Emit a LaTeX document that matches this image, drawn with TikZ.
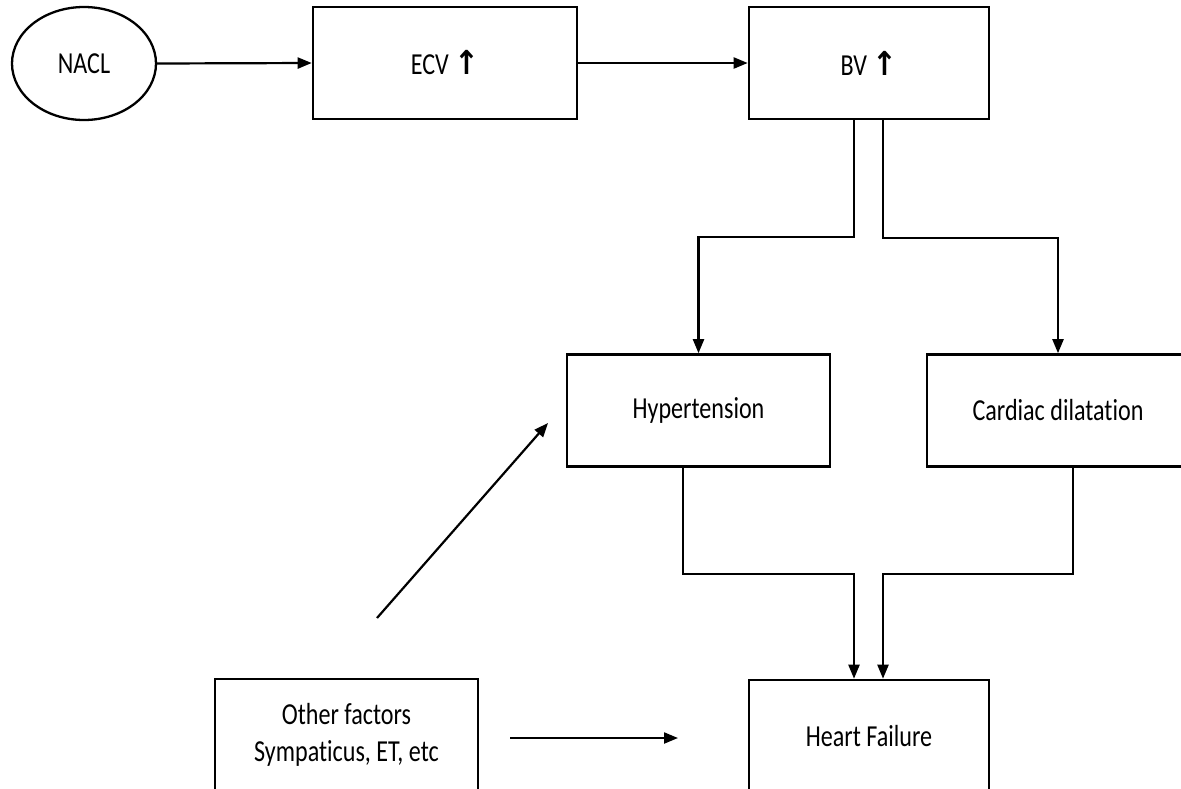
\documentclass[tikz,border=0pt]{standalone}
\usepackage{fontspec}
\setmainfont{Carlito}[FakeStretch=0.79,Ligatures={NoCommon}]
\newfontfamily\arrowfont{DejaVu Sans Bold}[FakeStretch=0.9]
\usetikzlibrary{arrows.meta,shapes.geometric}
\begin{document}
\begin{tikzpicture}[x=1pt,y=-1pt,
  txt/.style={font=\fontsize{30.5}{37}\selectfont, align=center, text=black},
  box/.style={txt, draw, line width=2.6pt, rectangle, minimum width=#1, minimum height=112pt, inner sep=0pt},
  oval/.style={txt, draw, line width=2.3pt, ellipse, minimum width=144pt, minimum height=113pt, inner sep=0pt},
  conn/.style={line width=2.2pt, -{Triangle[length=14pt,width=11pt]}}]
\useasboundingbox (0,0) rectangle (1181,788);
\clip (0,0) rectangle (1181,788);
\fill[white] (0,0) rectangle (1181,788);

\node[oval] (nacl) at (84,63.5) {NACL};
\node[box=264pt] (ecv) at (445,63) {ECV {\arrowfont\fontsize{33}{37}\selectfont ↑}};
\node[box=240pt] (bv) at (869,63) {BV {\arrowfont\fontsize{33}{37}\selectfont ↑}};
\node[box=263pt] (hyp) at (698.5,410.5) {Hypertension};
\node[box=262pt] (card) at (1058,410.5) {Cardiac dilatation};
\node[box=240pt] (hf) at (869,736) {Heart Failure};
\node[box=263pt] (oth) at (346.5,735) {Other factors\\Sympaticus, ET, etc};

\coordinate (d0) at (377,618);
\coordinate (d1) at (548,423);
\coordinate (o0) at (510,738);
\coordinate (o1) at (678,738);

\draw[conn] (nacl.east) -- (ecv.west);
\draw[conn] (ecv.east) -- (bv.west);
\draw[conn] ([xshift=-15pt]bv.south) -- ++(0,117) -| (hyp.north);
\draw[conn] ([xshift=14pt]bv.south) -- ++(0,118) -| (card.north);
\draw[conn] ([xshift=-15.5pt]hyp.south) -- ++(0,106) -| ([xshift=-15pt]hf.north);
\draw[conn] ([xshift=15pt]card.south) -- ++(0,106) -| ([xshift=14pt]hf.north);
\draw[conn] (d0) -- (d1);
\draw[conn] (o0) -- (o1);
\end{tikzpicture}
\end{document}
